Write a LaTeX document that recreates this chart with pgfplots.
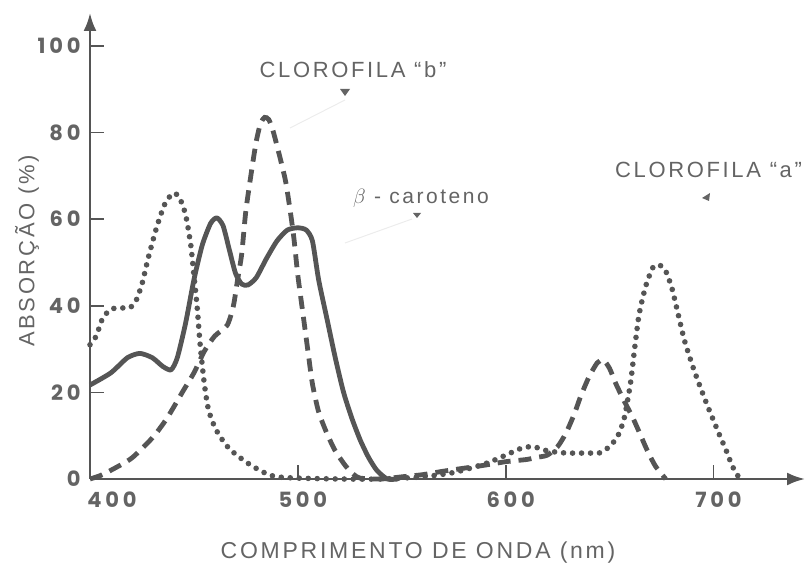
\documentclass[border=0pt]{standalone}
\usepackage{pgfplots}
\pgfplotsset{compat=1.18}
\usetikzlibrary{arrows.meta}
\usepackage{fontspec}
\setmainfont{Liberation Sans}
\newfontfamily\lblfont[LetterSpace=12]{Liberation Sans}
\newfontfamily\tickfont[LetterSpace=18]{Poppins}
\definecolor{ink}{RGB}{85,85,85}
\definecolor{txt}{RGB}{100,100,100}

\begin{document}
\begin{tikzpicture}[x=1pt,y=1pt]
\path[use as bounding box] (0,0) rectangle (806,565);
\begin{axis}[at={(90pt,86pt)}, anchor=south west, scale only axis,
  width=715pt, height=466pt,
  xmin=400, xmax=744, ymin=0, ymax=107.6,
  axis x line=bottom, axis y line=left, clip=false,
  tick align=inside, major tick length=14pt,
  xtick={400,500,600,700}, xticklabels={{\hspace*{34pt}400},500,600,700},
  ytick={0,20,...,100},
  axis line style={ink, line width=2.6pt},
  x axis line style={-{Latex[length=18pt,width=13pt]}},
  y axis line style={-{Latex[length=18pt,width=13pt]}},
  tick style={ink, line width=1.6pt},
  ticklabel style={font=\tickfont\bfseries\fontsize{21}{21}\selectfont, text=txt},
  xticklabel style={xshift=5pt,yshift=-9pt},
  yticklabel style={xshift=-6pt},
  /pgf/number format/assume math mode=true]
% beta-caroteno (solid)
\addplot[ink, line width=4.8pt, line join=round, smooth, tension=0.4] coordinates {
(400,21.7)(410,24.5)(418,28)(424,29)(430,28)(435,26)(439,25.2)(442,28)(446,36)(450,46)(454,54)(458,59)(461,60.3)(464,58.5)(467,53)(470,47.5)(473,45)(476,44.8)(480,46.5)(485,51)(490,55)(495,57.5)(500,58)(504,57.5)(507,55)(510,46)(514,37)(518,28)(522,20)(526,14)(530,9)(534,5)(538,2)(543,0)(548,0)};
% clorofila b (dashed)
\addplot[ink, line width=4.8pt, smooth, tension=0.4, dash pattern=on 13pt off 8pt] coordinates {
(400,0)(405,0.8)(410,2)(420,4.8)(430,9.5)(437,14)(445,20.5)(450,24.5)(455,29.5)(460,33)(466,35.5)(469,40)(471,46)(473,52)(475,62)(478,72)(480,78)(482,82)(484,83.5)(486,83)(488,80.5)(491,75)(494,69)(496,63)(498,56)(500,47)(502.5,38)(505,29)(507,22)(510,15.5)(514,10.5)(518,6.5)(523,3)(527,1)(530,0.2)(540,0)(550,0.5)(560,1)(570,1.8)(580,2.5)(590,3.2)(600,4)(610,4.5)(615,5)(620,5.5)(625,7.5)(629,10.6)(633,15)(636,19)(640,23.5)(644,26.8)(647,27.5)(650,25.5)(653,22)(657,18)(661,14.3)(665,10)(668,6.7)(672,3)(677,0)};
% clorofila a (dotted)
\addplot[ink, line width=5.6pt, line cap=round, smooth, tension=0.4, dash pattern=on 0pt off 9pt] coordinates {
(400,31)(403,33)(406,37)(410,39.2)(415,39.5)(419,39.5)(422,41)(425,45)(428,51)(432,58)(436,63.5)(440,66)(443,65)(446,61)(448.5,54)(450,47)(451.5,40)(453,31)(455,22)(457,16)(460,12)(463,9.5)(467,7)(472,5)(478,3)(485,1.2)(490,0.5)(500,0.2)(520,0)(540,0)(560,0.5)(575,1.5)(590,3.5)(600,5.5)(607,7)(613,7.5)(620,6.5)(629,6)(640,6)(645,6)(650,7.5)(654,10)(657,14)(660,22)(662,30)(664,37.5)(666,42)(668,45.5)(671,49)(674,49.4)(677,48)(680,44)(683,38)(686,32)(690,26)(693,22)(697,17)(700,13.5)(703,10)(706,6.7)(709,3)(712,0.5)};
\end{axis}
% leader lines and markers
\draw[gray!15, line width=1pt] (345,465) -- (290,437);
\draw[gray!15, line width=1pt] (412,346) -- (345,322);
\fill[txt] (340,476) -- (350,476) -- (345,469) -- cycle;
\fill[txt] (413,352) -- (421,352) -- (417,347) -- cycle;
\fill[txt] (702,367) -- (710,372) -- (709,364) -- cycle;
% labels
\node[txt, inner sep=0pt, font=\lblfont\fontsize{22}{22}\selectfont] at (353,495) {CLOROFILA “b”};
\node[txt, inner sep=0pt, font=\lblfont\fontsize{21}{21}\selectfont] at (421,367) {$\beta$ - caroteno};
\node[txt, inner sep=0pt, anchor=west, font=\lblfont\fontsize{22}{22}\selectfont] at (615,395) {CLOROFILA “a”};
\node[txt, inner sep=0pt, rotate=90, font=\lblfont\fontsize{22}{22}\selectfont] at (27,314) {ABSORÇÃO (\%)};
\node[txt, inner sep=0pt, font=\lblfont\fontsize{23}{23}\selectfont] at (418,12) {COMPRIMENTO DE ONDA (nm)};
\end{tikzpicture}
\end{document}
